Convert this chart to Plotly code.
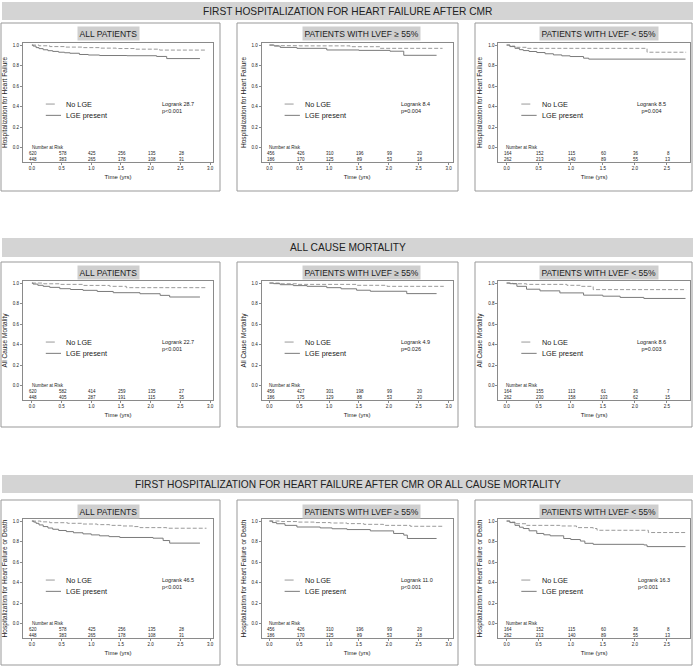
import plotly.graph_objects as go

FONT = "Arial, 'Liberation Sans', Helvetica, sans-serif"
W, H = 695, 666

SECTION_TITLES = [
    "FIRST HOSPITALIZATION FOR HEART FAILURE AFTER CMR",
    "ALL CAUSE MORTALITY",
    "FIRST HOSPITALIZATION FOR HEART FAILURE AFTER CMR OR ALL CAUSE MORTALITY",
]
PANEL_TITLES = ["ALL PATIENTS", "PATIENTS WITH LVEF \u2265 55%", "PATIENTS WITH LVEF < 55%"]
Y_TITLES = [
    "Hospitalization for Heart Failure",
    "All Cause Mortality",
    "Hospitalization for Heart Failure or Death",
]
SERIES_NAMES = ["No LGE", "LGE present"]
RISK_TIMES = [0.0, 0.5, 1.0, 1.5, 2.0, 2.5]

LOGRANK = [["28.7", "8.4", "8.5"], ["22.7", "4.9", "8.6"], ["46.5", "11.0", "16.3"]]
PVALUES = [["p<0.001", "p=0.004", "p=0.004"],
           ["p<0.001", "p=0.026", "p=0.003"],
           ["p<0.001", "p<0.001", "p<0.001"]]

# numbers at risk [panel][time]
HF_RISK_NOLGE = [[620, 578, 425, 256, 135, 28], [456, 426, 310, 196, 99, 20], [164, 152, 115, 60, 36, 8]]
HF_RISK_LGE = [[448, 383, 265, 178, 108, 31], [186, 170, 125, 89, 53, 18], [262, 213, 140, 89, 55, 13]]
MORT_RISK_NOLGE = [[620, 582, 414, 259, 135, 27], [456, 427, 301, 198, 99, 20], [164, 155, 113, 61, 36, 7]]
MORT_RISK_LGE = [[448, 405, 287, 191, 115, 35], [186, 175, 129, 88, 53, 20], [262, 230, 158, 103, 62, 15]]
HFD_RISK_NOLGE = [[620, 578, 425, 256, 135, 28], [456, 426, 310, 196, 99, 20], [164, 152, 115, 60, 36, 8]]
HFD_RISK_LGE = [[448, 383, 265, 178, 108, 31], [186, 170, 125, 89, 53, 18], [262, 213, 140, 89, 55, 13]]

# ---- Kaplan-Meier curves (time in years, event-free proportion) ----
# Row 1: heart failure hospitalization
HF_ALL_NOLGE_T = [0, 0.12, 0.3, 0.55, 0.86, 1.15, 1.42, 1.75, 2.15, 2.94]
HF_ALL_NOLGE_S = [1.0, 0.993, 0.985, 0.98, 0.975, 0.97, 0.966, 0.96, 0.951, 0.951]
HF_ALL_LGE_T = [0, 0.02, 0.07, 0.12, 0.19, 0.27, 0.35, 0.45, 0.55, 0.64, 0.8, 0.95, 1.14, 1.6, 2.1, 2.27, 2.83]
HF_ALL_LGE_S = [1.0, 0.99, 0.975, 0.965, 0.954, 0.945, 0.938, 0.93, 0.925, 0.92, 0.908, 0.903, 0.898, 0.896, 0.889, 0.868, 0.868]
HF_PRES_NOLGE_T = [0, 0.1, 0.5, 1.35, 1.85, 2.9]
HF_PRES_NOLGE_S = [1.0, 0.994, 0.992, 0.984, 0.968, 0.968]
HF_PRES_LGE_T = [0, 0.08, 0.18, 0.46, 0.96, 1.5, 2.02, 2.25, 2.8]
HF_PRES_LGE_S = [1.0, 0.99, 0.977, 0.968, 0.952, 0.948, 0.94, 0.90, 0.90]
HF_RED_NOLGE_T = [0, 0.05, 0.13, 0.31, 2.19, 2.8]
HF_RED_NOLGE_S = [1.0, 0.99, 0.978, 0.968, 0.93, 0.93]
HF_RED_LGE_T = [0, 0.05, 0.13, 0.2, 0.26, 0.35, 0.47, 0.6, 0.73, 0.86, 0.99, 1.2, 1.28, 2.79]
HF_RED_LGE_S = [1.0, 0.985, 0.968, 0.955, 0.946, 0.937, 0.927, 0.915, 0.904, 0.895, 0.888, 0.872, 0.863, 0.863]

# Row 2: all cause mortality
MORT_ALL_NOLGE_T = [0, 0.2, 0.47, 0.86, 1.31, 1.59, 2.94]
MORT_ALL_NOLGE_S = [1.0, 0.993, 0.987, 0.977, 0.968, 0.955, 0.955]
MORT_ALL_LGE_T = [0, 0.02, 0.1, 0.19, 0.3, 0.47, 0.65, 0.86, 1.1, 1.37, 1.82, 2.16, 2.32, 2.83]
MORT_ALL_LGE_S = [1.0, 0.99, 0.978, 0.968, 0.958, 0.945, 0.937, 0.929, 0.918, 0.906, 0.896, 0.88, 0.864, 0.864]
MORT_PRES_NOLGE_T = [0, 0.2, 0.46, 1.46, 1.97, 2.92]
MORT_PRES_NOLGE_S = [1.0, 0.993, 0.987, 0.978, 0.968, 0.968]
MORT_PRES_LGE_T = [0, 0.07, 0.18, 0.4, 0.63, 0.96, 1.2, 1.46, 1.69, 2.3, 2.8]
MORT_PRES_LGE_S = [1.0, 0.994, 0.984, 0.975, 0.968, 0.955, 0.944, 0.93, 0.92, 0.897, 0.897]
MORT_RED_NOLGE_T = [0, 0.1, 0.31, 0.94, 1.15, 1.35, 2.8]
MORT_RED_NOLGE_S = [1.0, 0.993, 0.987, 0.978, 0.968, 0.936, 0.936]
MORT_RED_LGE_T = [0, 0.05, 0.16, 0.31, 0.52, 0.83, 1.2, 1.5, 1.77, 2.14, 2.79]
MORT_RED_LGE_S = [1.0, 0.994, 0.968, 0.94, 0.924, 0.904, 0.882, 0.872, 0.86, 0.85, 0.85]

# Row 3: heart failure hospitalization or death
HFD_ALL_NOLGE_T = [0, 0.15, 0.3, 0.6, 0.86, 1.1, 1.31, 1.5, 1.7, 1.82, 2.27, 2.94]
HFD_ALL_NOLGE_S = [1.0, 0.992, 0.984, 0.978, 0.971, 0.965, 0.958, 0.952, 0.946, 0.936, 0.93, 0.93]
HFD_ALL_LGE_T = [0, 0.03, 0.07, 0.12, 0.19, 0.27, 0.35, 0.45, 0.58, 0.7, 0.86, 1.0, 1.14, 1.3, 1.48, 2.04, 2.21, 2.32, 2.83]
HFD_ALL_LGE_S = [1.0, 0.99, 0.978, 0.962, 0.946, 0.932, 0.92, 0.908, 0.897, 0.886, 0.875, 0.865, 0.856, 0.848, 0.84, 0.833, 0.81, 0.785, 0.785]
HFD_PRES_NOLGE_T = [0, 0.2, 0.46, 0.75, 1.02, 1.3, 1.58, 1.91, 2.36, 2.92]
HFD_PRES_NOLGE_S = [1.0, 0.995, 0.99, 0.985, 0.981, 0.975, 0.968, 0.958, 0.949, 0.949]
HFD_PRES_LGE_T = [0, 0.05, 0.12, 0.26, 0.46, 0.85, 1.05, 1.3, 1.69, 2.08, 2.25, 2.31, 2.8]
HFD_PRES_LGE_S = [1.0, 0.985, 0.974, 0.958, 0.942, 0.933, 0.925, 0.917, 0.904, 0.879, 0.863, 0.83, 0.83]
HFD_RED_NOLGE_T = [0, 0.05, 0.13, 0.31, 0.83, 1.09, 1.35, 1.41, 2.21, 2.8]
HFD_RED_NOLGE_S = [1.0, 0.99, 0.974, 0.958, 0.952, 0.936, 0.927, 0.91, 0.888, 0.888]
HFD_RED_LGE_T = [0, 0.05, 0.13, 0.2, 0.26, 0.35, 0.47, 0.58, 0.68, 0.89, 1.0, 1.15, 1.22, 1.35, 2.14, 2.19, 2.79]
HFD_RED_LGE_S = [1.0, 0.985, 0.958, 0.94, 0.927, 0.905, 0.879, 0.866, 0.856, 0.83, 0.82, 0.805, 0.783, 0.773, 0.767, 0.751, 0.751]

CURVES = [
    [((HF_ALL_NOLGE_T, HF_ALL_NOLGE_S), (HF_ALL_LGE_T, HF_ALL_LGE_S)),
     ((HF_PRES_NOLGE_T, HF_PRES_NOLGE_S), (HF_PRES_LGE_T, HF_PRES_LGE_S)),
     ((HF_RED_NOLGE_T, HF_RED_NOLGE_S), (HF_RED_LGE_T, HF_RED_LGE_S))],
    [((MORT_ALL_NOLGE_T, MORT_ALL_NOLGE_S), (MORT_ALL_LGE_T, MORT_ALL_LGE_S)),
     ((MORT_PRES_NOLGE_T, MORT_PRES_NOLGE_S), (MORT_PRES_LGE_T, MORT_PRES_LGE_S)),
     ((MORT_RED_NOLGE_T, MORT_RED_NOLGE_S), (MORT_RED_LGE_T, MORT_RED_LGE_S))],
    [((HFD_ALL_NOLGE_T, HFD_ALL_NOLGE_S), (HFD_ALL_LGE_T, HFD_ALL_LGE_S)),
     ((HFD_PRES_NOLGE_T, HFD_PRES_NOLGE_S), (HFD_PRES_LGE_T, HFD_PRES_LGE_S)),
     ((HFD_RED_NOLGE_T, HFD_RED_NOLGE_S), (HFD_RED_LGE_T, HFD_RED_LGE_S))],
]
RISKS = [(HF_RISK_NOLGE, HF_RISK_LGE), (MORT_RISK_NOLGE, MORT_RISK_LGE), (HFD_RISK_NOLGE, HFD_RISK_LGE)]

# ---- layout geometry (pixels) ----
HEADER_Y = [(2, 20), (238, 257), (475, 493)]
BOX_Y = [(23, 191), (262, 427), (500, 665)]
SUB_Y = [33, 272, 511]
PLOT_Y = [(43, 162), (281, 400), (519, 638)]
BOX_X = [(1, 220), (237, 458), (475, 692)]
PLOT_X = [(23, 213), (261.7, 452.7), (498.3, 690)]
SUB_X = [108.5, 361.5, 599]
X_RANGES = [[-0.15, 3.05], [-0.13, 3.07], [-0.13, 2.86]]
Y_RANGE = [-0.14, 1.02]

COL_NOLGE = "#9a9a9a"
COL_LGE = "#7a7a7a"
FRAME = "#8a8a8a"
TXT = "#222222"


def px(x):
    return x / W


def py(y):
    return 1 - y / H


fig = go.Figure()
shapes = []
annotations = []

for r in range(3):
    # section header bar
    shapes.append(dict(type="rect", xref="paper", yref="paper",
                       x0=px(2), x1=px(693), y0=py(HEADER_Y[r][1]), y1=py(HEADER_Y[r][0]),
                       fillcolor="#d4d4d4", line=dict(width=0), layer="below"))
    annotations.append(dict(xref="paper", yref="paper", x=0.5,
                            y=py((HEADER_Y[r][0] + HEADER_Y[r][1]) / 2),
                            text=SECTION_TITLES[r], showarrow=False,
                            font=dict(size=10.2, color=TXT, family=FONT),
                            xanchor="center", yanchor="middle"))
    for c in range(3):
        i = r * 3 + c + 1
        sx = "" if i == 1 else str(i)
        xa, ya = "x" + sx, "y" + sx
        # panel box
        shapes.append(dict(type="rect", xref="paper", yref="paper",
                           x0=px(BOX_X[c][0]), x1=px(BOX_X[c][1]),
                           y0=py(BOX_Y[r][1]), y1=py(BOX_Y[r][0]),
                           line=dict(color="#999999", width=1), fillcolor="rgba(0,0,0,0)",
                           layer="below"))
        # panel subtitle
        annotations.append(dict(xref="paper", yref="paper", x=px(SUB_X[c]), y=py(SUB_Y[r]),
                                text=PANEL_TITLES[c], showarrow=False,
                                font=dict(size=8.5, color=TXT, family=FONT),
                                bgcolor="#cfcfcf", borderpad=1.5,
                                xanchor="center", yanchor="middle"))
        (nt, ns), (lt, ls) = CURVES[r][c]
        fig.add_trace(go.Scatter(x=nt, y=ns, mode="lines", line_shape="hv",
                                 line=dict(color=COL_NOLGE, width=1, dash="4px,2px"),
                                 name=SERIES_NAMES[0], showlegend=False,
                                 xaxis=xa, yaxis=ya))
        fig.add_trace(go.Scatter(x=lt, y=ls, mode="lines", line_shape="hv",
                                 line=dict(color=COL_LGE, width=1),
                                 name=SERIES_NAMES[1], showlegend=False,
                                 xaxis=xa, yaxis=ya))
        ax = dict(domain=[px(PLOT_X[c][0]), px(PLOT_X[c][1])], anchor=ya,
                  range=X_RANGES[c], dtick=0.5, tick0=0, tickformat=".1f",
                  showline=True, linecolor=FRAME, linewidth=1, mirror=True,
                  ticks="outside", ticklen=2, tickcolor=FRAME, tickwidth=1,
                  tickfont=dict(size=4.5, color=TXT, family=FONT),
                  showgrid=False, zeroline=False,
                  title=dict(text="Time (yrs)", font=dict(size=6, color=TXT, family=FONT), standoff=4))
        ay = dict(domain=[py(PLOT_Y[r][1]), py(PLOT_Y[r][0])], anchor=xa,
                  range=Y_RANGE, tickvals=[0, 0.2, 0.4, 0.6, 0.8, 1.0], tickformat=".1f",
                  showline=True, linecolor=FRAME, linewidth=1, mirror=True,
                  ticks="outside", ticklen=2, tickcolor=FRAME, tickwidth=1,
                  tickfont=dict(size=4.5, color=TXT, family=FONT),
                  showgrid=False, zeroline=False,
                  title=dict(text=Y_TITLES[r], font=dict(size=6.5, color=TXT, family=FONT), standoff=4))
        fig.layout["xaxis" + sx] = ax
        fig.layout["yaxis" + sx] = ay

        # legend keys (inside the plot)
        for k, (nm, col, dash) in enumerate([(SERIES_NAMES[0], COL_NOLGE, "dash"),
                                             (SERIES_NAMES[1], COL_LGE, "solid")]):
            yy = 0.487 - k * 0.095
            shapes.append(dict(type="line", xref=xa + " domain", yref=ya + " domain",
                               x0=0.12, x1=0.20, y0=yy, y1=yy,
                               line=dict(color=col, width=1, dash=dash)))
            annotations.append(dict(xref=xa + " domain", yref=ya + " domain",
                                    x=0.215, y=yy, text=nm, showarrow=False,
                                    font=dict(size=7.3, color=TXT, family=FONT),
                                    xanchor="left", yanchor="middle"))
        # logrank text
        center = (c == 2 and r < 2)
        annotations.append(dict(xref=xa + " domain", yref=ya + " domain",
                                x=(0.80 if center else 0.72), y=0.462,
                                text="Logrank " + LOGRANK[r][c] + "<br>" + PVALUES[r][c],
                                showarrow=False, align=("center" if center else "left"),
                                font=dict(size=5.5, color=TXT, family=FONT),
                                xanchor=("center" if center else "left"), yanchor="middle"))
        # numbers at risk
        annotations.append(dict(xref=xa, yref=ya, x=-0.04, y=0.0, text="Number at Risk",
                                showarrow=False, font=dict(size=4.5, color=TXT, family=FONT),
                                xanchor="left", yanchor="middle"))
        rn, rl = RISKS[r]
        for j, t in enumerate(RISK_TIMES):
            annotations.append(dict(xref=xa, yref=ya, x=t + 0.02, y=-0.058, text=str(rn[c][j]),
                                    showarrow=False, font=dict(size=4.5, color=TXT, family=FONT),
                                    xanchor="center", yanchor="middle"))
            annotations.append(dict(xref=xa, yref=ya, x=t + 0.02, y=-0.112, text=str(rl[c][j]),
                                    showarrow=False, font=dict(size=4.5, color=TXT, family=FONT),
                                    xanchor="center", yanchor="middle"))

fig.update_layout(width=W, height=H, margin=dict(l=0, r=0, t=0, b=0),
                  paper_bgcolor="white", plot_bgcolor="white",
                  font=dict(family=FONT, color=TXT),
                  showlegend=False, shapes=shapes, annotations=annotations)

fig.write_html("out.html", config={"displayModeBar": False},
               post_script="document.body.style.margin='0px';document.body.style.overflow='hidden';")
